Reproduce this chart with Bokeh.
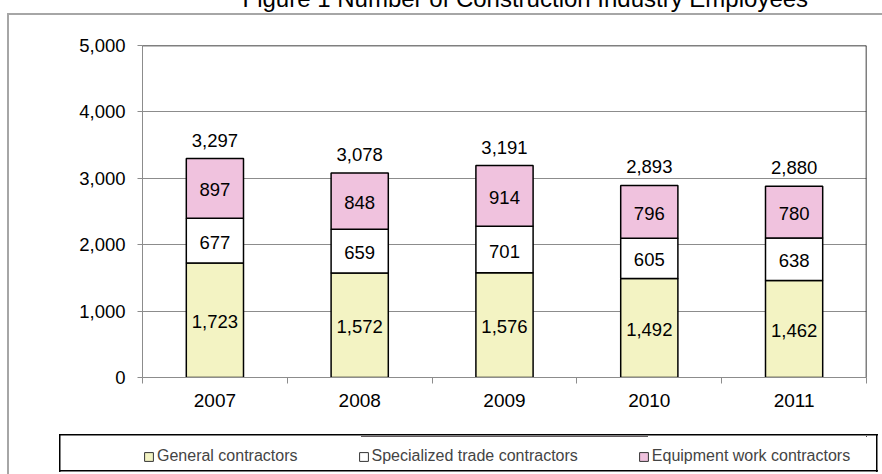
from bokeh.plotting import figure
from bokeh.layouts import column
from bokeh.models import (Range1d, FixedTicker, Legend, LegendItem,
                          ColumnDataSource, NumeralTickFormatter, Span)
from bokeh.core.properties import value
from bokeh.embed import file_html
from bokeh.resources import INLINE

# ---------------- data ----------------
years = ["2007", "2008", "2009", "2010", "2011"]
general = [1723, 1572, 1576, 1492, 1462]
specialized = [677, 659, 701, 605, 638]
equipment = [897, 848, 914, 796, 780]
totals = [3297, 3078, 3191, 2893, 2880]
series_names = ["General contractors", "Specialized trade contractors",
                "Equipment work contractors"]
series_colors = ["#F3F3C3", "#FFFFFF", "#F0C2DE"]
y_ticks = [0, 1000, 2000, 3000, 4000, 5000]
title_text = "Figure 1  Number of Construction Industry Employees"

FONT = "Liberation Sans"
GRAY = "#8C8C8C"
FRAME_GRAY = "#A6A6A6"
TOP = 50        # canvas starts above the page so the title runs off the top edge
SPLIT = 430     # page y where the legend strip begins

xs = [i + 0.5 for i in range(len(years))]
g_mid = [g / 2 for g in general]
s_mid = [g + s / 2 for g, s in zip(general, specialized)]
e_mid = [g + s + e / 2 for g, s, e in zip(general, specialized, equipment)]

src = ColumnDataSource(dict(
    x=xs, general=general, specialized=specialized, equipment=equipment,
    total=totals,
    g_mid=g_mid, s_mid=s_mid, e_mid=e_mid,
    g_lab=[f"{v:,}" for v in general],
    s_lab=[f"{v:,}" for v in specialized],
    e_lab=[f"{v:,}" for v in equipment],
    t_lab=[f"{v:,}" for v in totals],
))


def _line(x, y, w, h, c):
    return f"linear-gradient({c}, {c}) {x}px {y}px / {w}px {h}px no-repeat"


# ---------------- main chart ----------------
p = figure(width=882, height=SPLIT + TOP,
           x_range=Range1d(0, len(years)), y_range=Range1d(y_ticks[0], y_ticks[-1]),
           output_backend="svg", toolbar_location=None,
           min_border_left=142, min_border_right=16,
           min_border_top=45 + TOP, min_border_bottom=SPLIT - 377,
           background_fill_color="white", border_fill_color=None,
           outline_line_color=None)
p.styles = {
    "background": ", ".join([
        _line(7, 13 + TOP, 2, 600, FRAME_GRAY),
        _line(7, 13 + TOP, 900, 2, FRAME_GRAY),
    ]) + ", #FFFFFF",
}

p.title.text = title_text
p.title.align = "left"
p.title.offset = 100
p.title.vertical_align = "top"
p.title.standoff = 64
p.title.text_font = FONT
p.title.text_font_size = "24px"
p.title.text_font_style = "normal"
p.title.text_color = "black"

p.yaxis.ticker = FixedTicker(ticks=y_ticks)
p.yaxis.formatter = NumeralTickFormatter(format="0,0")
p.yaxis.axis_line_color = GRAY
p.yaxis.major_tick_line_color = GRAY
p.yaxis.major_tick_out = 5
p.yaxis.major_tick_in = 0
p.yaxis.minor_tick_line_color = None
p.yaxis.major_label_standoff = 12
p.yaxis.major_label_text_font = FONT
p.yaxis.major_label_text_font_size = "18.5px"
p.yaxis.major_label_text_color = "black"

p.xaxis.ticker = FixedTicker(ticks=xs, minor_ticks=list(range(len(years) + 1)))
p.xaxis.major_label_overrides = {x: y for x, y in zip(xs, years)}
p.xaxis.axis_line_color = GRAY
p.xaxis.major_tick_line_color = None
p.xaxis.major_tick_out = 6
p.xaxis.minor_tick_line_color = GRAY
p.xaxis.minor_tick_out = 6
p.xaxis.minor_tick_in = 0
p.xaxis.major_label_standoff = 10
p.xaxis.major_label_text_font = FONT
p.xaxis.major_label_text_font_size = "19px"
p.xaxis.major_label_text_color = "black"

p.xgrid.visible = False
p.ygrid.ticker = FixedTicker(ticks=y_ticks[1:-1])
p.ygrid.grid_line_color = GRAY

p.add_layout(Span(location=y_ticks[-1], dimension="width", line_color="black", line_width=1.5))
p.add_layout(Span(location=len(years), dimension="height", line_color="black", line_width=1.5))

p.vbar_stack(["general", "specialized", "equipment"], x="x", width=0.395,
             source=src, fill_color=series_colors, line_color="black", line_width=1.5)

for ycol, tcol in [("g_mid", "g_lab"), ("s_mid", "s_lab"), ("e_mid", "e_lab")]:
    p.text(x="x", y=ycol, text=tcol, source=src, text_align="center",
           text_baseline="middle", y_offset=1.5, text_font=value(FONT),
           text_font_size="18.5px", text_color="black")
p.text(x="x", y="total", text="t_lab", source=src, text_align="center",
       text_baseline="bottom", y_offset=-12, text_font=value(FONT),
       text_font_size="18.5px", text_color="black")

# ---------------- legend strip ----------------
LEG_H = 474 - SPLIT
pl = figure(width=882, height=LEG_H, x_range=Range1d(0, 1), y_range=Range1d(-2, -1),
            x_axis_type=None, y_axis_type=None,
            min_border_left=142, min_border_right=16, min_border_top=6, min_border_bottom=5,
            outline_line_color=None, border_fill_color=None, background_fill_color=None,
            output_backend="svg", toolbar_location=None)
top_y = 433.5 - SPLIT
bot_y = 470 - SPLIT
pl.styles = {
    "background": ", ".join([
        _line(7, 0, 2, LEG_H, FRAME_GRAY),
        _line(58.5, top_y, 819, 1.5, "#000000"),
        _line(58.5, bot_y, 819, 1.5, "#000000"),
        _line(58.5, top_y, 1.5, bot_y - top_y + 1.5, "#000000"),
        _line(876, top_y, 1.5, bot_y - top_y + 1.5, "#000000"),
    ]) + ", #FFFFFF",
}
# legend proxies (same series, outside this strip's visible range)
leg_rs = pl.vbar_stack(["general", "specialized", "equipment"], x="x", width=0.395,
                       source=src, fill_color=series_colors, line_color="#333333",
                       line_width=1)
legend = Legend(items=[LegendItem(label=n, renderers=[r]) for n, r in zip(series_names, leg_rs)],
                orientation="horizontal", location=(1, 4),
                border_line_alpha=0, background_fill_alpha=0,
                padding=0, spacing=60, glyph_width=11, glyph_height=11,
                label_height=11, label_standoff=3,
                label_text_font=FONT, label_text_font_size="16px", margin=0)
pl.add_layout(legend)

layout = column(p, pl, spacing=0)
layout.styles = {"margin-top": f"-{TOP}px"}

open("out.html", "w").write(file_html(layout, INLINE))
